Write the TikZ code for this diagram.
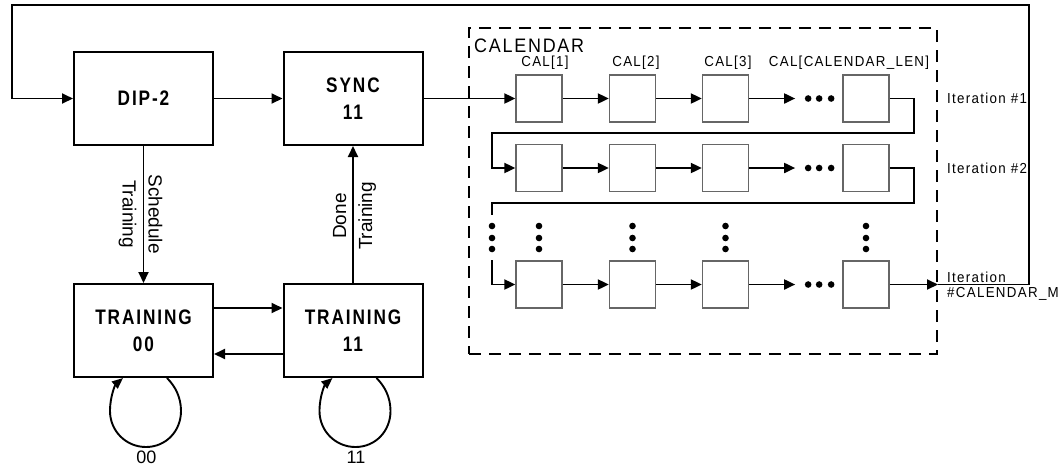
\documentclass[tikz,border=0pt]{standalone}
\usepackage{fontspec}
\setmainfont{Liberation Sans}
\newfontfamily\nf{Liberation Sans}[FakeStretch=0.92,LetterSpace=9]
\newfontfamily\bnf{Liberation Sans Bold}[FakeStretch=0.82,LetterSpace=9]
\usetikzlibrary{arrows.meta,calc}
\tikzset{
  arr/.style={line width=1.9pt,-{Triangle[length=11pt,width=10pt]}},
  ln/.style={line width=1.9pt},
  bigbox/.style={draw,line width=2pt,minimum width=139pt,minimum height=93pt,inner sep=0pt,
    font=\bnf\fontsize{21}{27}\selectfont,align=center},
  calcell/.style={draw=black!60,line width=1.3pt,minimum width=46pt,minimum height=47pt,inner sep=0pt},
  lbl/.style={font=\nf\fontsize{14.5}{17}\selectfont,inner sep=0pt},
  biglbl/.style={font=\nf\fontsize{19.5}{24}\selectfont,inner sep=0pt},
  side/.style={font=\fontsize{19}{26}\selectfont,align=center,inner sep=0pt}
}
\begin{document}
\begin{tikzpicture}[x=1pt,y=-1pt]
\useasboundingbox (0,0) rectangle (1059,467);
% main state boxes
\node[bigbox] (dip) at (143.5,98.5) {DIP-2};
\node[bigbox] (sync) at (353,98.5) {SYNC\\11};
\node[bigbox] (t00) at (143.5,330.5) {TRAINING\\00};
\node[bigbox] (t11) at (353,330.5) {TRAINING\\11};
% calendar frame
\node[draw,line width=2pt,dash pattern=on 12pt off 8pt,minimum width=468pt,minimum height=326pt,inner sep=0pt] (calbox) at (703,191) {};
\node[biglbl,anchor=west] (caltitle) at (474,46) {CALENDAR};
% calendar cells
\foreach \r/\y in {1/98.5,2/168,3/284.5}{
  \node[calcell] (r\r c1) at (539,\y) {};
  \node[calcell] (r\r c2) at (632.5,\y) {};
  \node[calcell] (r\r c3) at (725.5,\y) {};
  \node[calcell] (r\r c4) at (866,\y) {};
}
\node[lbl] (l1) at (545,63) {CAL[1]};
\node[lbl] (l2) at (636,63) {CAL[2]};
\node[lbl] (l3) at (728,63) {CAL[3]};
\node[lbl] (l4) at (849,63) {CAL[CALENDAR\_LEN]};
\node[lbl,anchor=west] (it1) at (947,98.5) {Iteration \#1};
\node[lbl,anchor=west] (it2) at (947,168) {Iteration \#2};
\node[lbl,anchor=west] (it3a) at (947,277) {Iteration};
\node[lbl,anchor=west] (it3b) at (947,294) {\#CALENDAR\_M};
% row connectors
\foreach \r in {1,2,3}{
  \draw[arr] (r\r c1.east) -- (r\r c2.west);
  \draw[arr] (r\r c2.east) -- (r\r c3.west);
  \coordinate (d\r) at ($(r\r c3.east)+(46,0)$);
  \draw[arr] (r\r c3.east) -- (d\r);
  \foreach \dx in {13,24,36}{\fill ($(d\r)+(\dx,0)$) circle[radius=3.3pt];}
}
\draw[arr] (sync.east) -- (r1c1.west);
\draw[arr] (r1c4.east) -- ++(24,0) -- ++(0,34.5) -- (492,133) |- (r2c1.west);
\draw[ln] (r2c4.east) -- ++(24,0) -- ++(0,35) -- (492,203) -- (492,215);
\coordinate (r3in) at (492,260);
\draw[arr] (r3in) |- (r3c1.west);
\foreach \x in {492,539,632.5,725.5,866}{
  \foreach \y in {226,238,249}{\fill (\x,\y) circle[radius=3.3pt];}
}
\coordinate (ne) at (1029,5);
\coordinate (nw) at (12,5);
\draw[arr] (r3c4.east) -- (calbox.east |- r3c4);
\draw[arr] (calbox.east |- r3c4) -| (ne) -- (nw) |- (dip.west);
% state transitions
\draw[arr] (dip.east) -- (sync.west);
\draw[arr] (dip.south) -- (t00.north);
\draw[arr] (t11.north) -- (sync.south);
\draw[arr] ([yshift=22.5pt]t00.east) -- ([yshift=22.5pt]t11.west);
\draw[arr] ([yshift=-23.5pt]t11.west) -- ([yshift=-23.5pt]t00.east);
\node[side,rotate=-90] (sched) at (140.5,214) {Schedule\\Training};
\node[side,rotate=90] (done) at (354.5,216) {Done\\Training};
% self loops
\foreach \n/\t in {t00/00,t11/11}{
  \begin{scope}[shift={(\n.south)}]
    \draw[line width=1.9pt,-{Triangle[length=11pt,width=9pt]}]
      (23.5,0) .. controls (31.5,8) and (37.5,19) .. (37.5,33)
      .. controls (37.5,53) and (22.5,69) .. (2.5,69)
      .. controls (-17.5,69) and (-33.5,53) .. (-33.5,33)
      .. controls (-33.5,17) and (-27.5,6) .. (-20.5,0);
    \node[side,font=\fontsize{18}{22}\selectfont] (lp\t) at (3,79) {\t};
  \end{scope}
}
\end{tikzpicture}
\end{document}
